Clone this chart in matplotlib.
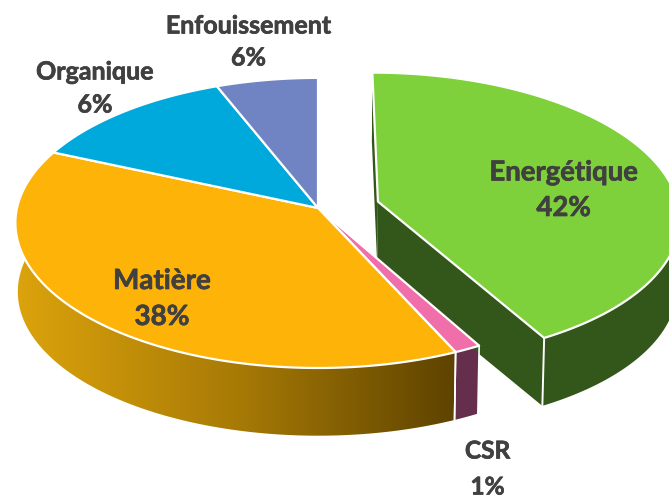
import numpy as np
import matplotlib
matplotlib.use("Agg")
import matplotlib.pyplot as plt
import matplotlib.patheffects as pe
from matplotlib.patches import Polygon
from matplotlib.colors import LinearSegmentedColormap

categories = ["Energétique", "CSR", "Matière", "Organique", "Enfouissement"]
shares = [41.9, 1.3, 38.4, 12.4, 6.0]
labels = ["42%", "1%", "38%", "6%", "6%"]
top_colors = ["#7FD13B", "#F06EAA", "#FDB308", "#00A9DB", "#7084C4"]
wall_colors = ["#33561A", "#652E4C", None, "#006A8A", "#465482"]
exploded = [0.20, 0, 0, 0, 0]

CX, CY, R, RY, K = 318.0, 208.0, 301.0, 143.5, 0.103
DEPTH, BOTTOM_SCALE = 69.0, 0.992
EXPLODE_V = -0.045
DARK = "#404040"

fig = plt.figure(figsize=(6.69, 4.97), dpi=100)
ax = fig.add_axes([0, 0, 1, 1])
ax.set_xlim(0, 669)
ax.set_ylim(497, 0)
ax.axis("off")


def project(u, v, bottom=False):
    """Perspective projection of a point of the unit disc to pixel space."""
    d = 1 - K * v
    s = BOTTOM_SCALE if bottom else 1.0
    return (CX + s * R * u / d, CY + s * RY * v / d + (DEPTH if bottom else 0.0))


def rim(start, end, su, sv, bottom=False, n=120):
    t = np.linspace(start, end, n) * 2 * np.pi / 100
    return [project(np.sin(a) + su, -np.cos(a) + sv, bottom) for a in t]


cum = np.concatenate([[0], np.cumsum(shares)])
cum = cum / cum[-1] * 100
grad = LinearSegmentedColormap.from_list(
    "gold", ["#DCA30C", "#A87B06", "#5E4300"], N=256)
EDGE = dict(edgecolor="white", linewidth=1.6, joinstyle="round")

# Walls first
for i in range(len(shares)):
    a, b = cum[i], cum[i + 1]
    su = exploded[i]
    sv = EXPLODE_V if exploded[i] else 0.0
    outer_t = rim(a, b, su, sv)
    outer_b = rim(a, b, su, sv, True)
    wall = outer_t + outer_b[::-1]
    if wall_colors[i] is None:
        poly = Polygon(wall, closed=True, facecolor="none", edgecolor="none")
        ax.add_patch(poly)
        xs = [p[0] for p in wall]
        im = ax.imshow(np.linspace(0, 1, 256)[None, :], cmap=grad, aspect="auto",
                       extent=[min(xs), max(xs), 497, 0], zorder=1)
        im.set_clip_path(poly)
        ax.set_xlim(0, 669)
        ax.set_ylim(497, 0)
    else:
        ax.add_patch(Polygon(wall, closed=True, facecolor=wall_colors[i],
                             edgecolor="none", zorder=1))
    if exploded[i]:
        # cut faces of the pulled-out slice and its front seam
        for edge in (a, b):
            e = edge * 2 * np.pi / 100
            face = [project(su, sv), project(np.sin(e) + su, -np.cos(e) + sv),
                    project(np.sin(e) + su, -np.cos(e) + sv, True), project(su, sv, True)]
            ax.add_patch(Polygon(face, closed=True, facecolor=wall_colors[i],
                                 edgecolor="none", zorder=1.5))
        ax.plot(*zip(outer_t[-1], outer_b[-1]), color="white", lw=1.4, zorder=1.6)
    else:
        ax.plot(*zip(outer_t[-1], outer_b[-1]), color="white", lw=1.2, zorder=1.6)
        ax.plot(*zip(outer_t[0], outer_b[0]), color="white", lw=1.2, zorder=1.6)

# Top faces
for i in range(len(shares)):
    a, b = cum[i], cum[i + 1]
    su = exploded[i]
    sv = EXPLODE_V if exploded[i] else 0.0
    face = [project(su, sv)] + rim(a, b, su, sv)
    ax.add_patch(Polygon(face, closed=True, facecolor=top_colors[i], zorder=3, **EDGE))

# Labels
font = dict(family="Lato", weight="bold", color=DARK, ha="center", va="center", zorder=5,
            path_effects=[pe.withStroke(linewidth=0.5, foreground=DARK)])
placement = {
    "Energétique": (563.5, 172.5, 208, 19.8),
    "CSR": (487.5, 451, 487, 17.6),
    "Matière": (162, 281, 317, 20),
    "Organique": (95, 72, 105, 18),
    "Enfouissement": (248.5, 26, 58, 18),
}
for name, pct in zip(categories, labels):
    x, y1, y2, size = placement[name]
    ax.text(x, y1, name, fontsize=size, **font)
    ax.text(x, y2, pct, fontsize=size, **font)

fig.savefig("out.png", dpi=100)
